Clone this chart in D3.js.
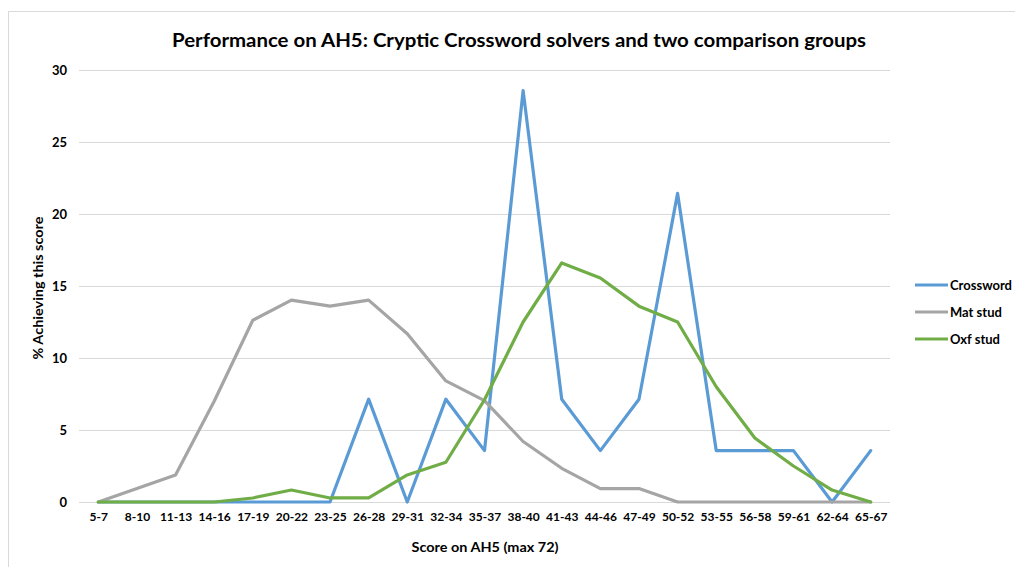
<!DOCTYPE html>
<html>
<head>
<meta charset="utf-8">
<script src="https://cdn.jsdelivr.net/npm/d3@7"></script>
<style>
  html, body { margin: 0; padding: 0; background: #fff; }
  svg { display: block; }
  text { font-family: Lato, "Open Sans", "Liberation Sans", sans-serif; fill: #000; }
</style>
</head>
<body>
<svg id="chart" width="1015" height="567"></svg>
<script>
// Score bands on AH5
const categories = ["5-7","8-10","11-13","14-16","17-19","20-22","23-25","26-28","29-31","32-34",
  "35-37","38-40","41-43","44-46","47-49","50-52","53-55","56-58","59-61","62-64","65-67"];

// % of each group achieving each score band
const crossword = [0,0,0,0,0,0,0,7.14,0,7.14,3.57,28.57,7.14,3.57,7.14,21.43,3.57,3.57,3.57,0,3.57];
const matStud   = [0,0.93,1.87,7.0,12.62,14.02,13.6,14.02,11.68,8.41,7.04,4.2,2.34,0.93,0.93,0,0,0,0,0,0];
const oxfStud   = [0,0,0,0,0.28,0.83,0.28,0.28,1.88,2.76,7.1,12.5,16.6,15.55,13.6,12.5,8.0,4.44,2.5,0.83,0];

const yTicks = [0,5,10,15,20,25,30];

const seriesNames  = ["Crossword","Mat stud","Oxf stud"];
const seriesValues = [crossword, matStud, oxfStud];
const seriesColors = ["#5B9BD5","#A5A5A5","#70AD47"];

const svg = d3.select("#chart");

// outer chart frame
svg.append("rect")
  .attr("x", 8.5).attr("y", 11.5)
  .attr("width", 1100).attr("height", 600)
  .attr("fill", "none").attr("stroke", "#d9d9d9").attr("stroke-width", 1);

const x = d3.scalePoint().domain(categories).range([79, 890]).padding(0.5);
const y = d3.scaleLinear().domain([0, 30]).range([502, 70]);

// horizontal gridlines
svg.append("g")
  .selectAll("line")
  .data(yTicks)
  .join("line")
  .attr("x1", 79).attr("x2", 890)
  .attr("y1", d => Math.round(y(d)) + 0.5)
  .attr("y2", d => Math.round(y(d)) + 0.5)
  .attr("stroke", "#d9d9d9").attr("stroke-width", 1);

// y axis labels
const yAxis = d3.axisLeft(y).tickValues(yTicks).tickSize(0).tickPadding(0);
const gy = svg.append("g").attr("transform", "translate(67,0)").call(yAxis);
gy.select(".domain").remove();
gy.selectAll("text")
  .style("font-family", "Lato, 'Open Sans', sans-serif")
  .style("font-size", "13px").style("font-weight", "bold").attr("fill", "#000");

// x axis labels
const xAxis = d3.axisBottom(x).tickSize(0).tickPadding(0);
const gx = svg.append("g").attr("transform", "translate(0,512)").call(xAxis);
gx.select(".domain").remove();
gx.selectAll("text")
  .style("font-family", "Lato, 'Open Sans', sans-serif")
  .style("font-size", "12px").style("font-weight", "bold").attr("fill", "#000");

// series lines
const line = d3.line()
  .x((d, i) => x(categories[i]))
  .y(d => y(d));

svg.append("g")
  .selectAll("path")
  .data(seriesValues)
  .join("path")
  .attr("d", d => line(d))
  .attr("fill", "none")
  .attr("stroke", (d, i) => seriesColors[i])
  .attr("stroke-width", 3.2)
  .attr("stroke-linejoin", "round")
  .attr("stroke-linecap", "round");

// title
svg.append("text")
  .attr("x", 519).attr("y", 47)
  .attr("text-anchor", "middle")
  .attr("textLength", 694).attr("lengthAdjust", "spacingAndGlyphs")
  .style("font-size", "19px").style("font-weight", "bold")
  .text("Performance on AH5: Cryptic Crossword solvers and two comparison groups");

// axis titles
svg.append("text")
  .attr("x", 485).attr("y", 552)
  .attr("text-anchor", "middle")
  .attr("textLength", 147).attr("lengthAdjust", "spacingAndGlyphs")
  .style("font-size", "14px").style("font-weight", "bold")
  .text("Score on AH5 (max 72)");

svg.append("text")
  .attr("transform", "translate(43,288) rotate(-90)")
  .attr("text-anchor", "middle")
  .attr("textLength", 143).attr("lengthAdjust", "spacingAndGlyphs")
  .style("font-size", "14px").style("font-weight", "bold")
  .text("% Achieving this score");

// legend
const legend = svg.append("g")
  .selectAll("g")
  .data(seriesNames)
  .join("g")
  .attr("transform", (d, i) => `translate(915,${285 + i * 27})`);

legend.append("line")
  .attr("x1", 0).attr("x2", 33).attr("y1", 0).attr("y2", 0)
  .attr("stroke", (d, i) => seriesColors[i]).attr("stroke-width", 3.2);

legend.append("text")
  .attr("x", 35).attr("y", 4.5)
  .style("font-size", "13px").style("font-weight", "bold")
  .text(d => d);
</script>
</body>
</html>
